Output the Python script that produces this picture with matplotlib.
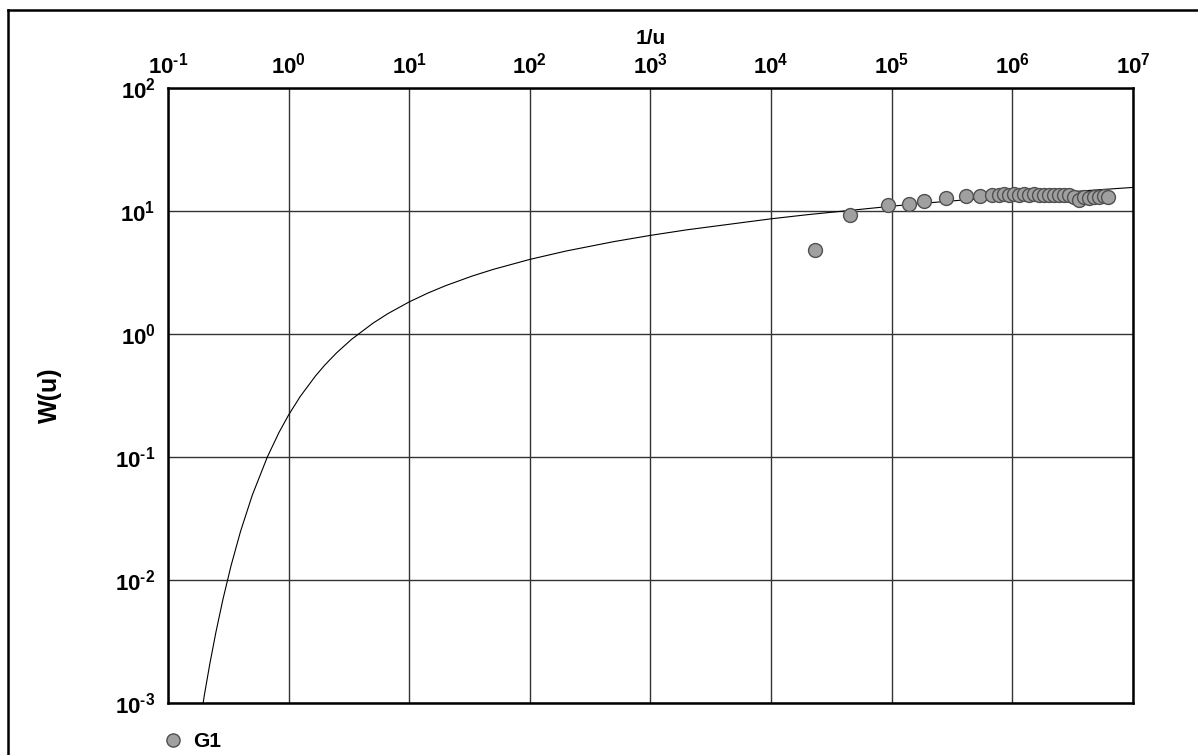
import matplotlib
matplotlib.use("Agg")
import matplotlib.pyplot as plt
from matplotlib.lines import Line2D
from matplotlib.ticker import FixedLocator, FixedFormatter

plt.rcParams['font.family'] = ['Liberation Sans', 'DejaVu Sans']
plt.rcParams['font.weight'] = 'bold'
plt.rcParams['mathtext.fontset'] = 'custom'
plt.rcParams['mathtext.rm'] = 'Liberation Sans:bold'
plt.rcParams['mathtext.bf'] = 'Liberation Sans:bold'
plt.rcParams['mathtext.it'] = 'Liberation Sans:bold'

# curva tipo de Theis (1/u, W(u))
curva_inv_u = [0.1667, 0.2, 0.2222, 0.25, 0.2857, 0.3333, 0.4, 0.5, 0.6667, 0.8333,
               1.0, 1.25, 1.667, 2.0, 2.5, 3.333, 5.0, 6.667, 10.0, 14.29, 20.0,
               33.33, 50.0, 100.0, 200.0, 500.0, 1000.0, 2000.0, 1e4, 2e4, 1e5,
               2e5, 1e6, 2e6, 1e7]
curva_w = [0.00036, 0.001148, 0.002073, 0.003779, 0.00697, 0.01305, 0.02491, 0.0489,
           0.1, 0.1584, 0.2194, 0.3106, 0.4544, 0.5598, 0.7024, 0.9057, 1.2227,
           1.4645, 1.8229, 2.1508, 2.4679, 2.9591, 3.3547, 4.0379, 4.7261, 5.6394,
           6.3315, 7.0242, 8.6332, 9.3263, 10.9357, 11.6289, 13.2383, 13.9314, 15.5409]

# datos del pozo G1
g1_inv_u = [2.32e4, 4.53e4, 9.35e4, 1.40e5, 1.86e5, 2.83e5, 4.14e5, 5.41e5, 6.79e5,
            7.77e5, 8.55e5, 9.40e5, 1.035e6, 1.14e6, 1.25e6, 1.38e6, 1.51e6, 1.67e6,
            1.83e6, 2.01e6, 2.22e6, 2.44e6, 2.68e6, 2.95e6, 3.25e6, 3.57e6, 3.93e6,
            4.32e6, 4.75e6, 5.23e6, 5.75e6, 6.21e6]
g1_w = [4.82, 9.27, 11.2, 11.4, 12.1, 12.8, 13.2, 13.2, 13.4,
        13.6, 13.7, 13.6, 13.7, 13.6, 13.7, 13.6, 13.7, 13.6,
        13.5, 13.6, 13.5, 13.6, 13.4, 13.5, 13.0, 12.3, 13.0,
        12.8, 13.1, 12.9, 13.2, 13.1]

x_ticks = [1e-1, 1e0, 1e1, 1e2, 1e3, 1e4, 1e5, 1e6, 1e7]
x_labels = [r'$10^{\text{-}1}$', r'$10^{0}$', r'$10^{1}$', r'$10^{2}$', r'$10^{3}$',
            r'$10^{4}$', r'$10^{5}$', r'$10^{6}$', r'$10^{7}$']
y_ticks = [1e-3, 1e-2, 1e-1, 1e0, 1e1, 1e2]
y_labels = [r'$10^{\text{-}3}$', r'$10^{\text{-}2}$', r'$10^{\text{-}1}$',
            r'$10^{0}$', r'$10^{1}$', r'$10^{2}$']

fig = plt.figure(figsize=(11.98, 7.55), dpi=100)
ax = fig.add_axes([0.1402, 0.0689, 0.8055, 0.8146])

ax.plot(curva_inv_u, curva_w, color='black', linewidth=0.8, zorder=3)
ax.plot(g1_inv_u, g1_w, linestyle='none', marker='o', markersize=10,
        markerfacecolor='#a0a0a0', markeredgecolor='#505050', markeredgewidth=1.0,
        label='G1', zorder=4)

ax.set_xscale('log')
ax.set_yscale('log')
ax.set_xlim(1e-1, 1e7)
ax.set_ylim(1e-3, 1e2)

ax.xaxis.set_major_locator(FixedLocator(x_ticks))
ax.xaxis.set_major_formatter(FixedFormatter(x_labels))
ax.yaxis.set_major_locator(FixedLocator(y_ticks))
ax.yaxis.set_major_formatter(FixedFormatter(y_labels))
ax.minorticks_off()
ax.xaxis.tick_top()
ax.xaxis.set_label_position('top')
ax.tick_params(axis='both', length=0, labelsize=16)
ax.tick_params(axis='x', pad=7)
ax.tick_params(axis='y', pad=9)

ax.grid(True, which='major', color='#333333', linewidth=1.0)
for s in ax.spines.values():
    s.set_linewidth(1.8)

ax.set_xlabel('1/u', fontsize=15, fontweight='bold', va='center')
ax.xaxis.set_label_coords(0.5, 1.08)
ax.set_ylabel('W(u)', fontsize=18, fontweight='bold', va='center')
ax.yaxis.set_label_coords(-0.122, 0.5)

ax.legend(loc='upper left', bbox_to_anchor=(0.1287, 0.041), bbox_transform=fig.transFigure,
          frameon=False, fontsize=15, handlelength=1.0, handletextpad=0.45,
          borderaxespad=0, markerscale=0.95)

# marco exterior (solo arriba e izquierda)
fig.add_artist(Line2D([8 / 1198, 1.0], [1 - 10 / 755, 1 - 10 / 755],
                      transform=fig.transFigure, color='black', linewidth=1.8))
fig.add_artist(Line2D([8 / 1198, 8 / 1198], [0.0, 1 - 10 / 755],
                      transform=fig.transFigure, color='black', linewidth=1.8))

fig.savefig('out.png', dpi=100)
